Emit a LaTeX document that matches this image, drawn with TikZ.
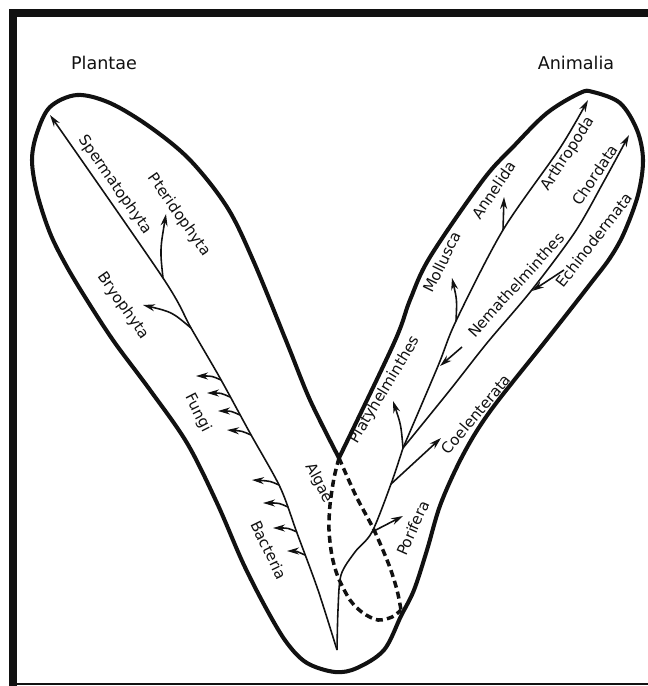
\documentclass[tikz,border=0pt]{standalone}
\usepackage{fontspec}
\setsansfont{DejaVu Sans}
\usepackage{xcolor}
\definecolor{ink}{HTML}{111111}
\usepackage{tikz}
\usetikzlibrary{arrows.meta, calc}

\begin{document}
\begin{tikzpicture}[
  x=0.02cm, y=-0.02cm,
  font=\fontsize{8.6}{10}\sffamily\selectfont,
  lobe/.style={draw=ink, line width=2.3pt, line join=round},
  stem/.style={draw=ink, line width=0.9pt},
  branch/.style={stem, -{Stealth[length=2.4mm, width=1.4mm]}},
  algae/.style={draw=ink, line width=2pt, dash pattern=on 4pt off 2.4pt},
  taxon/.style={inner sep=0pt, text=ink},
  kingdom/.style={taxon, font=\fontsize{10}{12}\sffamily\selectfont}
]
  \useasboundingbox (0,0) rectangle (648,686);
  % frame
  \fill[ink] (9,9) rectangle (648,17);
  \fill[ink] (9,9) rectangle (17,686);
  \draw[ink, line width=0.8pt] (9,684) -- (648,684);

  \node[kingdom] (plantae) at (104,63) {Plantae};
  \node[kingdom] (animalia) at (576,63) {Animalia};

  \coordinate (crotch) at (339,458);
  \coordinate (root) at (337,650);

  % the V outline
  \draw[lobe] plot[smooth, tension=0.55] coordinates {
    (crotch) (310,400) (287,343) (253,260) (227,207) (190,160) (150,127)
    (110,103) (77,95) (50,107) (37,133) (32,160) (37,193) (50,233) (67,267)
    (90,305) (115,343) (150,390) (187,443) (217,503) (243,563) (267,610)
    (287,643) (307,663) (335,672) (357,668) (384,650) (401,616) (414,590)
    (427,550) (441,503) (464,453) (491,410) (544,343) (570,310) (591,283)
    (610,258) (624,233) (638,195) (643,160) (637,130) (620,103) (593,92)
    (580,93) (547,113) (513,147) (483,180) (430,257) (410,300) (394,343)
    (crotch)};

  % Plantae
  \coordinate (jpter) at (163,278);
  \coordinate (jbry) at (191,328);
  \coordinate (sperm) at (50,115);
  \coordinate (pter) at (166,214);
  \coordinate (bry) at (143,305);
  \draw[branch] plot[smooth] coordinates {(root) (318,590) (297,533)
    (280,487) (250,433) (220,378) (jbry) (jpter) (sperm)};
  \draw[branch] (jpter) .. controls (160,250) .. (pter);
  \draw[branch] (jbry) .. controls (172,312) .. (bry);
  \foreach \i/\tx/\ty/\bx/\by in {1/196/376/221/380, 2/207/393/230/397,
      3/218/411/240/415, 4/227/430/251/435, 5/252/480/279/485,
      6/263/503/288/507, 7/273/528/297/532, 8/287/551/305/555}{
    \coordinate (fb\i) at (\bx,\by);
    \coordinate (ft\i) at (\tx,\ty);
    \draw[branch] (fb\i) .. controls ($(fb\i)+(-9,-4)$) .. (ft\i);
  }

  \node[taxon, rotate=-55] (l-sperm) at (115,185) {Spermatophyta};
  \node[taxon, rotate=-55] (l-pter) at (179,215) {Pteridophyta};
  \node[taxon, rotate=-55] (l-bry) at (123,306) {Bryophyta};
  \node[taxon, rotate=-63] (l-fungi) at (198,413) {Fungi};
  \node[taxon, rotate=-64] (l-bact) at (269,550) {Bacteria};
  \node[taxon, rotate=-62] (l-algae) at (319,483) {Algae};

  % Algae
  \draw[algae] plot[smooth] coordinates {(crotch) (334,478) (330,505)
    (329,530) (332,556) (338,577) (350,600) (363,613) (378,620) (392,617)
    (401,610)};
  \draw[algae] plot[smooth] coordinates {(crotch) (356,496) (374,530)
    (389,565) (397,590) (401,610)};

  % Animalia
  \coordinate (jpor) at (372,532);
  \coordinate (jcoel) at (391,484);
  \coordinate (jplat) at (403,448);
  \coordinate (jnem) at (440,366);
  \coordinate (jmoll) at (456,321);
  \coordinate (jann) at (503,230);
  \coordinate (jechi) at (532,291);
  \coordinate (por) at (403,516);
  \coordinate (coel) at (441,438);
  \coordinate (plat) at (393,401);
  \coordinate (nem) at (462,347);
  \coordinate (moll) at (452,278);
  \coordinate (ann) at (504,197);
  \coordinate (arth) at (588,100);
  \coordinate (echi) at (564,270);
  \coordinate (chord) at (629,135);
  \draw[stem] plot[smooth] coordinates {(root) (338,610) (341,575)
    (355,552) (jpor) (jcoel) (jplat)};
  \draw[branch] plot[smooth] coordinates {(jplat) (438,366) (jmoll) (jann)
    (560,148) (arth)};
  \draw[branch] plot[smooth] coordinates {(jplat) (450,390) (487,343)
    (531,291) (575,232) (603,183) (chord)};
  \draw[branch] (jpor) -- (por);
  \draw[branch] (jcoel) -- (coel);
  \draw[branch] (jplat) .. controls (401,425) .. (plat);
  \draw[branch] (nem) -- (jnem);
  \draw[branch] (jmoll) .. controls (457,300) .. (moll);
  \draw[branch] (jann) -- (ann);
  \draw[branch] (echi) -- (jechi);

  \node[taxon, rotate=66] (l-por) at (413,528) {Porifera};
  \node[taxon, rotate=50] (l-coel) at (476,414) {Coelenterata};
  \node[taxon, rotate=59] (l-plat) at (385,390) {Platyhelminthes};
  \node[taxon, rotate=48] (l-nem) at (516,285) {Nemathelminthes};
  \node[taxon, rotate=64] (l-moll) at (442,262) {Mollusca};
  \node[taxon, rotate=56] (l-ann) at (494,190) {Annelida};
  \node[taxon, rotate=57] (l-arth) at (568,154) {Arthropoda};
  \node[taxon, rotate=56] (l-chord) at (595,175) {Chordata};
  \node[taxon, rotate=52] (l-echi) at (594,240) {Echinodermata};
\end{tikzpicture}
\end{document}
